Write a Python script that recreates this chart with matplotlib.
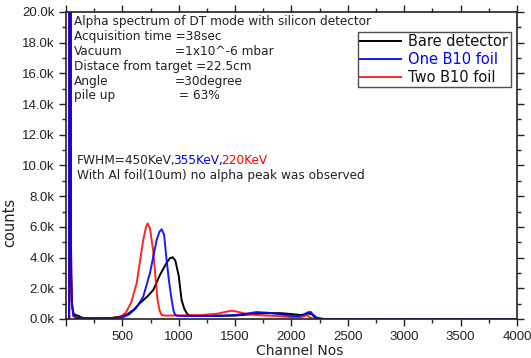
import matplotlib.pyplot as plt
import numpy as np
from matplotlib.ticker import MultipleLocator, FuncFormatter
from matplotlib.transforms import offset_copy

plt.rcParams['font.family'] = ['Liberation Sans', 'DejaVu Sans']

# channel / counts
bare_ch = [28, 32, 38, 45, 55, 70, 90, 110, 130, 160, 250, 400, 480, 540, 600, 656, 720, 774,
           833, 892, 920, 946, 970, 1000, 1025, 1050, 1070, 1090, 1150, 1300, 1500, 1600, 1700,
           1800, 1900, 2000, 2080, 2120, 2150, 2180, 2210, 2250, 2300, 4000]
bare_ct = [0, 60000, 60000, 3000, 800, 300, 250, 200, 120, 60, 40, 60, 150, 280, 600, 1040, 1450, 1890,
           2870, 3650, 3950, 4020, 3800, 2800, 1240, 650, 390, 230, 200, 200, 220, 280, 350,
           380, 380, 320, 260, 300, 360, 300, 100, 20, 0, 0]

one_ch = [28, 32, 38, 42, 50, 65, 100, 200, 400, 500, 560, 620, 685, 745, 804, 830, 848, 870,
          892, 915, 937, 955, 970, 1000, 1200, 1400, 1500, 1600, 1690, 1800, 1900, 2000, 2060,
          2100, 2140, 2170, 2190, 2220, 2270, 2300, 4000]
one_ct = [0, 60000, 60000, 6000, 1200, 200, 60, 40, 50, 100, 300, 700, 1450, 3000, 5150, 5700, 5840, 5500,
          3840, 2400, 1240, 500, 250, 200, 190, 220, 260, 350, 450, 400, 300, 200, 180,
          250, 420, 460, 300, 100, 10, 0, 0]

two_ch = [28, 32, 38, 42, 50, 65, 100, 200, 400, 480, 530, 580, 627, 685, 710, 724, 745, 772,
          795, 812, 830, 848, 880, 1000, 1200, 1350, 1420, 1469, 1530, 1600, 1700, 1850, 2000,
          2080, 2120, 2135, 2160, 2200, 4000]
two_ct = [0, 60000, 60000, 6000, 1200, 200, 60, 40, 60, 120, 400, 1100, 2350, 5150, 6000, 6230, 5900, 4500,
          2600, 1240, 550, 260, 220, 230, 260, 350, 470, 540, 460, 320, 250, 200, 120,
          100, 200, 260, 120, 0, 0]

fig = plt.figure(figsize=(5.31, 3.58), dpi=100)
ax = fig.add_axes([0.1243, 0.109, 0.8493, 0.8575])

ax.plot(bare_ch, bare_ct, color='black', lw=1.4, label='Bare detector')
ax.plot(two_ch, two_ct, color='red', lw=1.4, alpha=0.85, label='Two B10 foil')
ax.plot(one_ch, one_ct, color='blue', lw=1.4, alpha=0.9, label='One B10 foil')

ax.set_xlim(0, 4000)
ax.set_ylim(0, 20000)
ax.xaxis.set_major_locator(MultipleLocator(500))
ax.xaxis.set_minor_locator(MultipleLocator(250))
ax.yaxis.set_major_locator(MultipleLocator(2000))
ax.yaxis.set_minor_locator(MultipleLocator(1000))
ax.xaxis.set_major_formatter(FuncFormatter(lambda v, p: '' if v == 0 else '%d' % v))
ax.yaxis.set_major_formatter(FuncFormatter(lambda v, p: '%.1fk' % (v / 1000)))
ax.tick_params(which='both', direction='out', colors='#222222', labelsize=9.5, width=1)
ax.tick_params(which='major', length=5)
ax.tick_params(which='minor', length=3)
ax.tick_params(top=True, right=True, which='both')
for s in ax.spines.values():
    s.set_linewidth(1.2)
    s.set_color('#222222')

ax.set_ylabel('counts', fontsize=10.5, color='#222222', family='DejaVu Sans')
ax.yaxis.set_label_coords(-0.109, 0.313)
ax.set_xlabel('Channel Nos', fontsize=10, color='#222222', family='DejaVu Sans')
ax.xaxis.set_label_coords(0.519, -0.08)

info = dict(fontsize=8.7, color='#222222', transform=ax.transAxes, va='center',
            family='DejaVu Sans')
lines = [('Alpha spectrum of DT mode with silicon detector', ''),
         ('Acquisition time =38sec', ''),
         ('Vacuum', '=1x10^-6 mbar'),
         ('Distace from target =22.5cm', ''),
         ('Angle', '=30degree'),
         ('pile up', ' = 63%')]
for i, (a, b) in enumerate(lines):
    y = (319 - (22 + i * 14.8)) / 307
    ax.text(0.0177, y, a, **info)
    if b:
        ax.text(0.2417, y, b, **info)

# FWHM line in three colours, placed one after the other
yf = (319 - 161) / 307
fig.canvas.draw()
renderer = fig.canvas.get_renderer()
dx = 0
for s, c in [('FWHM=450KeV,', '#222222'), ('355KeV,', 'blue'), ('220KeV', 'red')]:
    opts = dict(info)
    opts['color'] = c
    opts['transform'] = offset_copy(ax.transAxes, fig=fig, x=dx, y=0, units='dots')
    t = ax.text(0.024, yf, s, **opts)
    dx += t.get_window_extent(renderer).width - 2
ax.text(0.024, (319 - 176) / 307, 'With Al foil(10um) no alpha peak was observed', **info)

h, l = ax.get_legend_handles_labels()
order = [0, 2, 1]
leg = ax.legend([h[i] for i in order], [l[i] for i in order], loc='upper right',
                bbox_to_anchor=(0.986, 0.935), prop={'family': 'DejaVu Sans', 'size': 10.5},
                frameon=True, fancybox=False, edgecolor='#222222', borderpad=0.15,
                labelspacing=0.2, handlelength=2.8, handletextpad=0.5, borderaxespad=0)
leg.get_frame().set_linewidth(1)
for txt, c in zip(leg.get_texts(), ['#111111', 'blue', '#111111']):
    txt.set_color(c)

fig.savefig('out.png', dpi=100)
